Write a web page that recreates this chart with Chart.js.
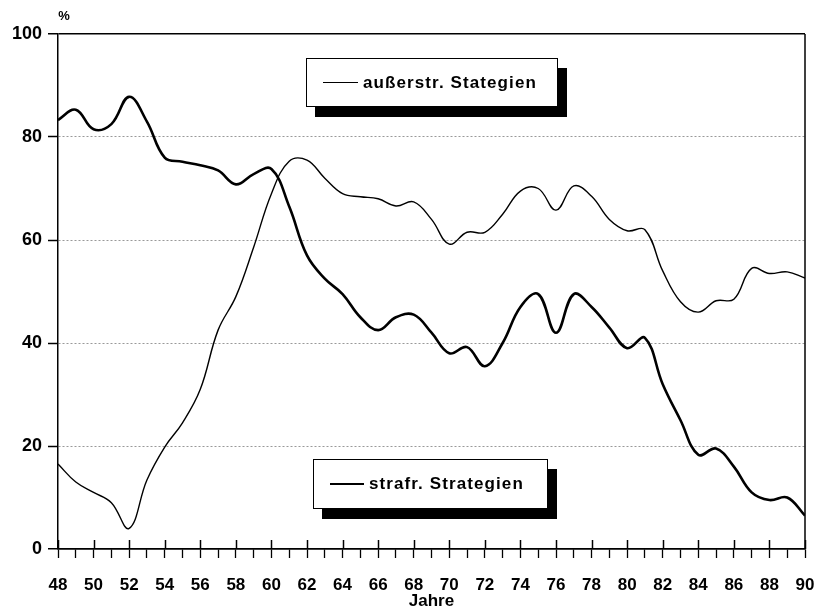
<!DOCTYPE html>
<html>
<head>
<meta charset="utf-8">
<script src="https://cdn.jsdelivr.net/npm/chart.js@4/dist/chart.umd.min.js"></script>
<style>
  body { margin: 0; background: #fff; }
  #wrap { position: relative; width: 816px; height: 608px; }
  .legend {
    position: absolute; background: #fff; border: 1.5px solid #000;
    box-shadow: 9px 10px 0 #000; box-sizing: border-box;
    font: bold 17px "Liberation Sans", Arial, sans-serif; color: #000;
    display: flex; align-items: center; letter-spacing: 1.1px;
  }
  .legend span.ln { display: inline-block; border-top: 1.5px solid #000; margin-right: 5px; }
</style>
</head>
<body>
<div id="wrap">
  <canvas id="chart" width="816" height="608"></canvas>
  <div class="legend" style="left:306px;top:58px;width:252px;height:49px;padding-left:16px;">
    <span class="ln" style="width:35px;"></span>außerstr. Stategien
  </div>
  <div class="legend" style="left:313px;top:459px;width:235px;height:50px;padding-left:16px;">
    <span class="ln" style="width:34px;border-top-width:2.5px;"></span>strafr. Strategien
  </div>
</div>
<script>
// Jahre 1948 - 1990
const years = [48, 49, 50, 51, 52, 53, 54, 55, 56, 57, 58, 59, 60, 61, 62, 63, 64, 65, 66, 67, 68, 69,
               70, 71, 72, 73, 74, 75, 76, 77, 78, 79, 80, 81, 82, 83, 84, 85, 86, 87, 88, 89, 90];

// strafrechtliche Strategien (dicke Linie), in %
const strafr = [83.3, 85.3, 81.5, 82.5, 87.8, 83, 76, 75.2, 74.5, 73.5, 70.8, 72.8, 73.8, 66.5, 57, 52.5, 49.5, 45, 42.5, 45, 45.5, 42,
                38, 39.2, 35.5, 40, 47, 49.5, 42, 49.5, 47, 43, 39, 41, 32, 25, 18.3, 19.5, 16, 11, 9.5, 10, 6.5];

// außerstrafrechtliche Strategien (dünne Linie), in %
const ausserstr = [16.5, 13, 11, 9, 4, 13.4, 19.8, 24.5, 31, 42.5, 49, 58.6, 69, 75.3, 75.5, 72, 69, 68.4, 68, 66.6, 67.4, 64,
                   59.2, 61.5, 61.5, 65, 69.5, 70, 65.8, 70.5, 68.5, 64, 61.8, 62, 54, 48, 46, 48.2, 48.5, 54.5, 53.5, 53.8, 52.6];

const yTicks = [0, 20, 40, 60, 80, 100];

const font = { family: '"Liberation Sans", Arial, sans-serif', weight: 'bold' };

// extra ticks above the x axis at even years, right frame line, "%" label
const extras = {
  id: 'extras',
  afterDraw(chart) {
    const { ctx, chartArea: a, scales: { x } } = chart;
    ctx.save();
    ctx.strokeStyle = '#000';
    ctx.lineWidth = 1.5;
    years.forEach(y => {
      if (y % 2 === 0) {
        const px = Math.round(x.getPixelForValue(y)) + 0.5;
        ctx.beginPath();
        ctx.moveTo(px, a.bottom - 9);
        ctx.lineTo(px, a.bottom);
        ctx.stroke();
      }
    });
    ctx.beginPath();
    ctx.moveTo(a.right, a.top);
    ctx.lineTo(a.right, a.bottom);
    ctx.stroke();
    ctx.fillStyle = '#000';
    ctx.font = 'bold 13px "Liberation Sans", Arial, sans-serif';
    ctx.textAlign = 'center';
    ctx.textBaseline = 'middle';
    ctx.fillText('%', 64, 16);
    ctx.restore();
  }
};

new Chart(document.getElementById('chart'), {
  type: 'line',
  data: {
    datasets: [{
      label: 'außerstr. Stategien',
      data: years.map((y, i) => ({ x: y, y: ausserstr[i] })),
      borderColor: '#000',
      borderWidth: 1.4,
      pointRadius: 0,
      tension: 0.4
    }, {
      label: 'strafr. Strategien',
      data: years.map((y, i) => ({ x: y, y: strafr[i] })),
      borderColor: '#000',
      borderWidth: 2.6,
      pointRadius: 0,
      tension: 0.4
    }]
  },
  options: {
    responsive: false,
    animation: false,
    layout: { padding: { top: 34, right: 11, left: 0, bottom: 0 } },
    plugins: { legend: { display: false }, tooltip: { enabled: false } },
    scales: {
      x: {
        type: 'linear',
        min: 48,
        max: 90,
        afterFit: s => { s.height = 59; s.paddingLeft = 0; s.paddingRight = 0; },
        afterBuildTicks: s => { s.ticks = years.map(v => ({ value: v })); },
        ticks: {
          autoSkip: false,
          maxRotation: 0,
          padding: 17,
          color: '#000',
          font: { ...font, size: 17 },
          callback: v => (v % 2 === 0 ? v : '')
        },
        grid: { drawOnChartArea: false, tickLength: 9, tickColor: '#000', tickWidth: 1.3 },
        border: { color: '#000', width: 1.5 },
        title: {
          display: true,
          text: 'Jahre',
          color: '#000',
          font: { ...font, size: 17, lineHeight: 1 },
          padding: { top: 0, bottom: -2 }
        }
      },
      y: {
        min: 0,
        max: 100,
        afterFit: s => { s.width = 58; s.paddingTop = 0; s.paddingBottom = 0; },
        afterBuildTicks: s => { s.ticks = yTicks.map(v => ({ value: v })); },
        ticks: { padding: 6, color: '#000', font: { ...font, size: 18 } },
        grid: {
          tickLength: 10,
          tickColor: '#000',
          tickWidth: 1.5,
          lineWidth: c => (c.tick && (c.tick.value === 0 || c.tick.value === 100) ? 1.5 : 1),
          color: c => (c.tick && (c.tick.value === 0 || c.tick.value === 100) ? '#000' : '#999')
        },
        border: {
          color: '#000',
          width: 1.5,
          dash: c => (c.tick && c.tick.value > 0 && c.tick.value < 100 ? [2, 2] : [])
        }
      }
    }
  },
  plugins: [extras]
});
</script>
</body>
</html>
